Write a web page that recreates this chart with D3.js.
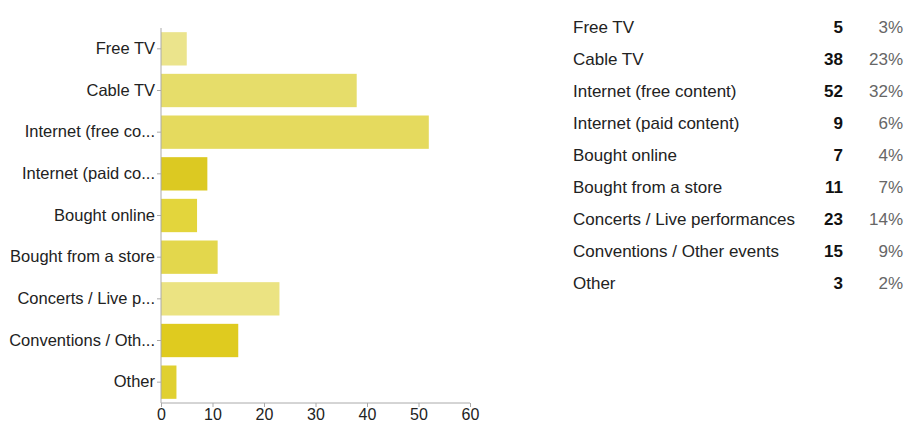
<!DOCTYPE html>
<html>
<head>
<meta charset="utf-8">
<script src="https://cdn.jsdelivr.net/npm/d3@7"></script>
<style>
  body { margin: 0; background: #fff; }
  svg { font-family: "Liberation Sans", Arial, sans-serif; }
  .axis path, .axis line { stroke: #aaa; }
  .axis text { fill: #222; }
</style>
</head>
<body>
<svg id="chart" width="909" height="427"></svg>
<script>
// answers, shortened labels for the bar chart, counts, shares
var categories = ["Free TV", "Cable TV", "Internet (free content)", "Internet (paid content)",
    "Bought online", "Bought from a store", "Concerts / Live performances",
    "Conventions / Other events", "Other"];
var shortLabels = ["Free TV", "Cable TV", "Internet (free co...", "Internet (paid co...",
    "Bought online", "Bought from a store", "Concerts / Live p...", "Conventions / Oth...", "Other"];
var counts = [5, 38, 52, 9, 7, 11, 23, 15, 3];
var percents = ["3%", "23%", "32%", "6%", "4%", "7%", "14%", "9%", "2%"];
var xTicks = [0, 10, 20, 30, 40, 50, 60];
var barColors = ["#ebe48c", "#e6dd6a", "#e5da5e", "#dcc922", "#e3d53c", "#e3d74c", "#ebe382", "#dfcb1f", "#e0d030"];

var svg = d3.select("#chart");
var margin = {top: 28, left: 161, bottom: 24};

var x = d3.scaleLinear().domain([0, 60]).range([161, 470]);
var y = d3.scaleBand().domain(categories).range([margin.top, 403]).paddingInner(0.2).paddingOuter(0.1);

var g = svg.append("g");

//bars
g.selectAll(".bar").data(categories).enter().append("rect")
    .attr("class", "bar")
    .attr("x", x(0))
    .attr("y", function(d) { return y(d); })
    .attr("width", function(d, i) { return x(counts[i]) - x(0); })
    .attr("height", y.bandwidth())
    .attr("fill", function(d, i) { return barColors[i]; });

//y axis, with shortened labels
var yAxis = d3.axisLeft(y).tickSize(4).tickPadding(2)
    .tickFormat(function(d, i) { return shortLabels[i]; });
g.append("g").attr("class", "axis y")
    .attr("transform", "translate(" + x(0) + ",0)")
    .call(yAxis)
    .call(function(s) { s.select(".domain").attr("d", "M0," + margin.top + "V403"); })
    .selectAll("text").style("font-size", "16.5px");

//x axis
var xAxis = d3.axisBottom(x).tickValues(xTicks).tickSize(4).tickPadding(2);
g.append("g").attr("class", "axis x")
    .attr("transform", "translate(0,403)")
    .call(xAxis)
    .call(function(s) { s.select(".domain").attr("d", "M" + x(0) + ",0H470"); })
    .selectAll("text").style("font-size", "16px");

//table on the right
var rowY = d3.scaleBand().domain(categories).range([11, 299]);
var rows = svg.append("g").selectAll(".row").data(categories).enter().append("g")
    .attr("class", "row")
    .attr("transform", function(d) { return "translate(0," + (rowY(d) + rowY.bandwidth() / 2) + ")"; });

rows.append("text")
    .attr("x", 573).attr("dy", "0.35em")
    .style("font-size", "17px").attr("fill", "#222")
    .text(function(d) { return d; });
rows.append("text")
    .attr("x", 843).attr("dy", "0.35em").attr("text-anchor", "end")
    .style("font-size", "17px").style("font-weight", "bold").attr("fill", "#111")
    .text(function(d, i) { return counts[i]; });
rows.append("text")
    .attr("x", 903).attr("dy", "0.35em").attr("text-anchor", "end")
    .style("font-size", "17px").attr("fill", "#666")
    .text(function(d, i) { return percents[i]; });
</script>
</body>
</html>
